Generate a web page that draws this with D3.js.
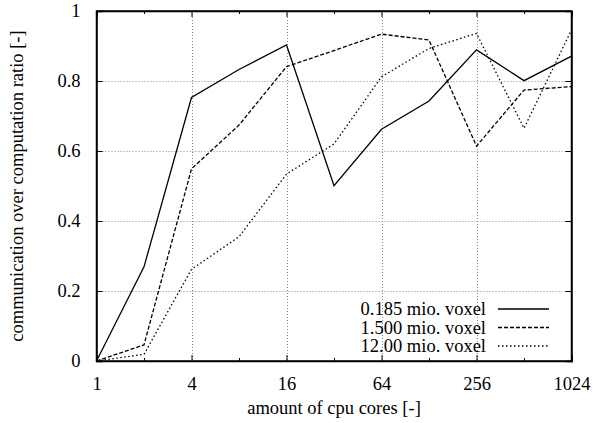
<!DOCTYPE html>
<html>
<head>
<meta charset="utf-8">
<script src="https://cdn.jsdelivr.net/npm/d3@7"></script>
<style>
  body { margin: 0; background: #fff; }
  svg text { font-family: "Liberation Serif", "DejaVu Serif", serif; font-size: 18.5px; fill: #000; }
</style>
</head>
<body>
<svg width="613" height="423"></svg>
<script>
// data
var cores = [1, 2, 4, 8, 16, 32, 64, 128, 256, 512, 1024];
var small = [0, 0.269, 0.753, 0.833, 0.903, 0.501, 0.662, 0.743, 0.889, 0.801, 0.871];
var medium = [0, 0.046, 0.549, 0.674, 0.841, 0.887, 0.934, 0.917, 0.614, 0.774, 0.784];
var large = [0, 0.019, 0.262, 0.355, 0.534, 0.620, 0.812, 0.893, 0.936, 0.665, 0.946];
var seriesNames = ["0.185 mio. voxel", "1.500 mio. voxel", "12.00 mio. voxel"];
var xTicks = [1, 4, 16, 64, 256, 1024];
var xMinor = [2, 8, 32, 128, 512];
var yTicks = [0, 0.2, 0.4, 0.6, 0.8, 1];

var svg = d3.select("svg");
var pLeft = 96.5, pRight = 571.5, pTop = 11, pBottom = 361;

var x = d3.scaleLog().base(2).domain([1, 1024]).range([pLeft, pRight]);
var y = d3.scaleLinear().domain([0, 1]).range([pBottom, pTop]);

// grid
var grid = svg.append("g")
    .attr("stroke", "#888")
    .attr("stroke-width", 1)
    .attr("stroke-dasharray", "1,2");
grid.selectAll(".gx")
    .data(xTicks.slice(1, -1))
    .enter()
    .append("line")
        .attr("x1", d => Math.round(x(d)) + 0.5)
        .attr("x2", d => Math.round(x(d)) + 0.5)
        .attr("y1", pTop)
        .attr("y2", pBottom);
grid.selectAll(".gy")
    .data(yTicks.slice(1, -1))
    .enter()
    .append("line")
        .attr("x1", pLeft)
        .attr("x2", pRight)
        .attr("y1", d => Math.round(y(d)) + 0.5)
        .attr("y2", d => Math.round(y(d)) + 0.5);

// axes (gnuplot style: ticks inside, mirrored)
svg.append("g")
    .attr("transform", "translate(0," + pBottom + ")")
    .call(d3.axisBottom(x).tickValues(xTicks).tickSize(-6).tickPadding(16).tickFormat(d3.format("d")));
svg.append("g")
    .attr("transform", "translate(0," + pTop + ")")
    .call(d3.axisTop(x).tickValues(xTicks).tickSize(-6).tickFormat(""));
svg.append("g")
    .attr("transform", "translate(" + pLeft + ",0)")
    .call(d3.axisLeft(y).tickValues(yTicks).tickSize(-6).tickPadding(16).tickFormat(d => d === 0 || d === 1 ? d : d3.format(".1f")(d)));
svg.append("g")
    .attr("transform", "translate(" + pRight + ",0)")
    .call(d3.axisRight(y).tickValues(yTicks).tickSize(-6).tickFormat(""));

svg.append("g")
    .attr("transform", "translate(0," + pBottom + ")")
    .call(d3.axisBottom(x).tickValues(xMinor).tickSize(-3).tickFormat(""))
    .select(".domain").remove();
svg.append("g")
    .attr("transform", "translate(0," + pTop + ")")
    .call(d3.axisTop(x).tickValues(xMinor).tickSize(-3).tickFormat(""))
    .select(".domain").remove();

svg.selectAll(".domain").attr("stroke", "#000").attr("stroke-width", 1.5);
svg.selectAll(".tick line").attr("stroke", "#000");
svg.selectAll(".tick text")
    .style("font-family", "Liberation Serif")
    .style("font-size", "18.5px")
    .attr("fill", "#000");

// border box
svg.append("rect")
    .attr("x", pLeft)
    .attr("y", pTop)
    .attr("width", pRight - pLeft)
    .attr("height", pBottom - pTop)
    .attr("fill", "none")
    .attr("stroke", "#000")
    .attr("stroke-width", 1.5);

// titles
svg.append("text")
    .attr("x", (pLeft + pRight) / 2)
    .attr("y", 414)
    .attr("text-anchor", "middle")
    .text("amount of cpu cores [-]");
svg.append("text")
    .attr("transform", "translate(23," + (pTop + pBottom) / 2 + ") rotate(-90)")
    .attr("text-anchor", "middle")
    .text("communication over computation ratio [-]");

// lines
var styles = [
    { data: small, dash: null },
    { data: medium, dash: "4,2" },
    { data: large, dash: "1.5,2.5" }
];
var line = d3.line()
    .x((d, i) => x(cores[i]))
    .y(d => y(d));

svg.selectAll(".series")
    .data(styles)
    .enter()
    .append("path")
        .attr("d", d => line(d.data))
        .attr("fill", "none")
        .attr("stroke", "#000")
        .attr("stroke-width", 1.3)
        .attr("stroke-dasharray", d => d.dash);

// legend
var legend = svg.append("g");
styles.forEach(function(s, i) {
    var ly = 309 + i * 18.5;
    legend.append("text")
        .attr("x", 486)
        .attr("y", ly + 6)
        .attr("text-anchor", "end")
        .text(seriesNames[i]);
    legend.append("line")
        .attr("x1", 498)
        .attr("x2", 549)
        .attr("y1", ly)
        .attr("y2", ly)
        .attr("stroke", "#000")
        .attr("stroke-width", 1.3)
        .attr("stroke-dasharray", s.dash);
});
</script>
</body>
</html>
